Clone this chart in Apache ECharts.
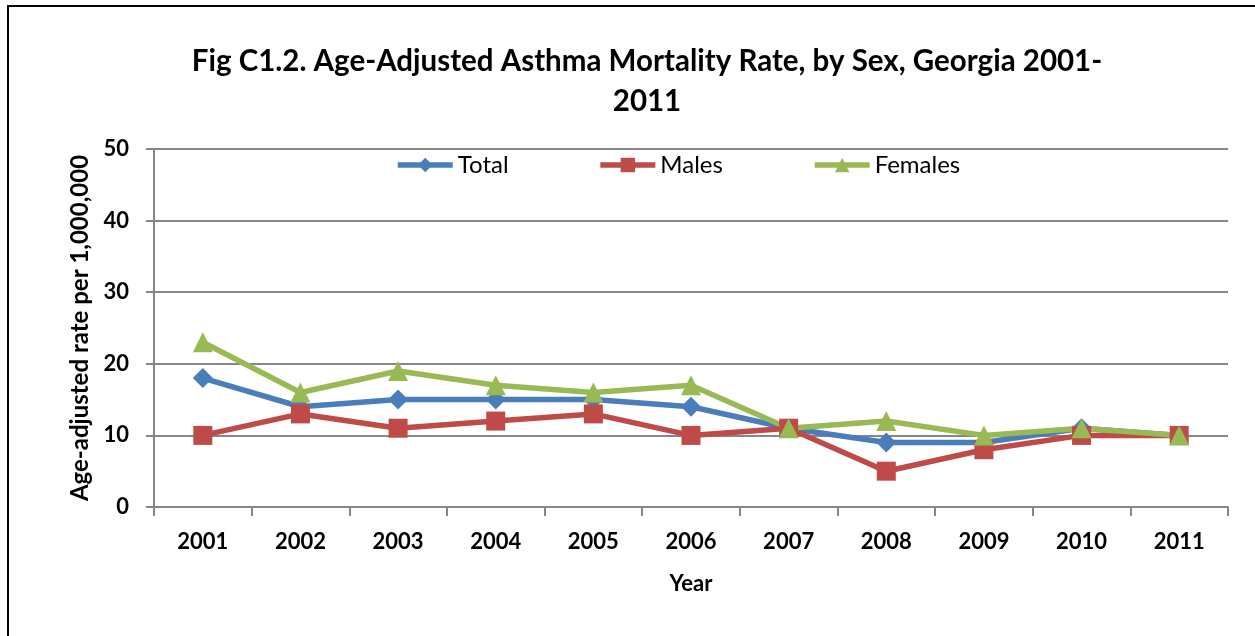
<!DOCTYPE html>
<html>
<head>
<meta charset="utf-8">
<script src="https://cdn.jsdelivr.net/npm/echarts@6/dist/echarts.min.js"></script>
<style>
  html, body { margin: 0; padding: 0; background: #fff; }
  #chart { width: 1255px; height: 636px; }
</style>
</head>
<body>
<div id="chart"></div>
<script>
// Age-adjusted asthma mortality rate per 1,000,000, Georgia 2001-2011
const years = ['2001', '2002', '2003', '2004', '2005', '2006', '2007', '2008', '2009', '2010', '2011'];
const total = [18, 14, 15, 15, 15, 14, 11, 9, 9, 11, 10];
const males = [10, 13, 11, 12, 13, 10, 11, 5, 8, 10, 10];
const females = [23, 16, 19, 17, 16, 17, 11, 12, 10, 11, 10];
const yTicks = [0, 10, 20, 30, 40, 50];

const FONT = 'Lato, "Open Sans", sans-serif';

function lineSeries(name, data, color, symbol, size) {
  return {
    name: name,
    type: 'line',
    data: data,
    symbol: symbol,
    symbolSize: size,
    lineStyle: { color: color, width: 5.5 },
    itemStyle: { color: color },
    emphasis: { disabled: true },
    animation: false
  };
}

const chart = echarts.init(document.getElementById('chart'), null, { renderer: 'canvas' });
chart.setOption({
  backgroundColor: '#fff',
  animation: false,
  graphic: [{
    type: 'rect',
    shape: { x: 8, y: 6, width: 1260, height: 640 },
    style: { fill: 'none', stroke: '#000', lineWidth: 2 },
    silent: true
  }],
  title: {
    text: 'Fig C1.2. Age-Adjusted Asthma Mortality Rate, by Sex, Georgia 2001-\n2011',
    left: 642,
    top: 36,
    textAlign: 'center',
    textStyle: { fontFamily: FONT, fontSize: 29.5, fontWeight: 'bold', color: '#000', lineHeight: 40 }
  },
  legend: {
    left: 395,
    top: 153,
    padding: 0,
    itemWidth: 55,
    itemHeight: 18,
    itemGap: 89,
    lineStyle: { width: 5.5 },
    textStyle: { fontFamily: FONT, fontSize: 24, color: '#000' },
    data: ['Total', 'Males', 'Females']
  },
  grid: { left: 154, right: 27, top: 149, bottom: 129, containLabel: false },
  xAxis: {
    type: 'category',
    data: years,
    boundaryGap: true,
    name: 'Year',
    nameLocation: 'middle',
    nameGap: 66,
    nameTextStyle: { fontFamily: FONT, fontSize: 22, fontWeight: 'bold', color: '#000' },
    axisLine: { lineStyle: { color: '#868686', width: 2 } },
    axisTick: { show: true, length: 9, alignWithLabel: false, lineStyle: { color: '#868686', width: 2 } },
    axisLabel: { margin: 24, fontFamily: FONT, fontSize: 22, fontWeight: 'bold', color: '#000' }
  },
  yAxis: {
    type: 'value',
    min: yTicks[0],
    max: yTicks[yTicks.length - 1],
    interval: 10,
    name: 'Age-adjusted rate per 1,000,000',
    nameLocation: 'middle',
    nameGap: 62,
    nameTextStyle: { fontFamily: FONT, fontSize: 24, fontWeight: 'bold', color: '#000' },
    axisLine: { show: true, lineStyle: { color: '#868686', width: 2 } },
    axisTick: { show: true, length: 8, lineStyle: { color: '#868686', width: 2 } },
    axisLabel: { margin: 25, fontFamily: FONT, fontSize: 22, fontWeight: 'bold', color: '#000' },
    splitLine: { show: true, lineStyle: { color: '#868686', width: 2 } }
  },
  series: [
    lineSeries('Total', total, '#4A7EBB', 'diamond', 20),
    lineSeries('Males', males, '#BE4B48', 'rect', 19),
    lineSeries('Females', females, '#98B954', 'triangle', 20)
  ]
});
</script>
</body>
</html>
